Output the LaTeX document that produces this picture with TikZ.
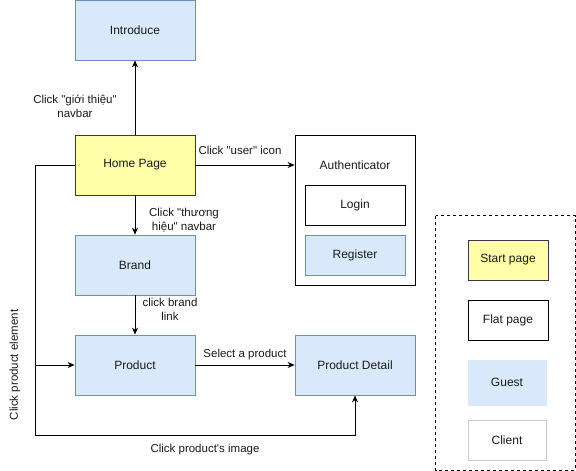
\documentclass[tikz,border=0pt]{standalone}
\usepackage{fontspec}
\setmainfont{Liberation Sans}
\usetikzlibrary{arrows.meta}
\definecolor{yfill}{HTML}{FFFFAA}
\definecolor{ystroke}{HTML}{36393D}
\definecolor{bfill}{HTML}{DAE8FC}
\definecolor{bstroke}{HTML}{6C8EBF}
\definecolor{cstroke}{HTML}{CCCCCC}
\definecolor{txt}{HTML}{1A1A1A}
\newcommand{\qq}{\textquotedbl}
\tikzset{
  base/.style={minimum width=120pt, minimum height=60pt, inner sep=0pt, font=\fontsize{12}{14}\selectfont, text=txt, line width=0.8pt},
  startbox/.style={base, draw=ystroke, fill=yfill},
  guestbox/.style={base, draw=bstroke, fill=bfill},
  flatbox/.style={base, draw=black, fill=white},
  lbl/.style={font=\fontsize{11.5}{14}\selectfont, text=txt, align=center, inner sep=1pt},
  conn/.style={line width=0.8pt, -{Stealth[length=7pt,width=6pt]}},
}
\begin{document}
\begin{tikzpicture}[x=1pt,y=-1pt]
\useasboundingbox (0,0) rectangle (576,471);
% main nodes
\node[guestbox] (intro) at (135,30) {Introduce};
\node[startbox] (home) at (135,165) {Home Page};
\node[guestbox] (brand) at (135,265) {Brand};
\node[guestbox] (product) at (135,365) {Product};
\node[guestbox] (detail) at (355,365) {Product Detail};
% authenticator
\node[flatbox, minimum height=150pt] (auth) at (355,210) {};
\node[lbl, font=\fontsize{12}{14}\selectfont] (authlbl) at (355,165) {Authenticator};
\node[flatbox, minimum width=100pt, minimum height=40pt] (login) at (355,205) {Login};
\node[guestbox, minimum width=100pt, minimum height=40pt] (register) at (355,255) {Register};
% legend
\draw[dashed, line width=0.8pt] (435.5,215.5) rectangle (575,470);
\node[startbox, minimum width=80pt, minimum height=40pt] (lstart) at (508,260) {Start page};
\node[flatbox, minimum width=80pt, minimum height=40pt] (lflat) at (508,320) {Flat page};
\node[base, draw=bfill, fill=bfill, minimum width=78pt, minimum height=45pt] (lguest) at (507,382.5) {Guest};
\node[base, draw=cstroke, fill=white, minimum width=78pt, minimum height=40pt] (lclient) at (507,440) {Client};
% connectors
\coordinate (c1) at (35,165);
\coordinate (c2) at (35,365);
\coordinate (c3) at (35,435);
\coordinate (c4) at (355,435);
\draw[conn] (home) -- (intro);
\draw[conn] (home) -- (auth.west |- home);
\draw[conn] (home) -- (brand);
\draw[conn] (brand) -- (product);
\draw[conn] (product) -- (detail);
\draw[conn] (home.west) -- (c1) -- (c2) -- (product.west);
\draw[conn] (c2) -- (c3) -- (c4) -- (detail.south);
% labels
\node[lbl] (l1) at (75,106) {Click \qq{}giới thiệu\qq{}\\navbar};
\node[lbl] (l2) at (240,150) {Click \qq{}user\qq{} icon};
\node[lbl] (l3) at (184,220) {Click \qq{}thương\\hiệu\qq{} navbar};
\node[lbl] (l4) at (170,309) {click brand\\link};
\node[lbl] (l5) at (245,355) {Select a product};
\node[lbl] (l6) at (205,450) {Click product\textquotesingle{}s image};
\node[lbl, rotate=90] (l7) at (15,365) {Click product element};
\end{tikzpicture}
\end{document}
